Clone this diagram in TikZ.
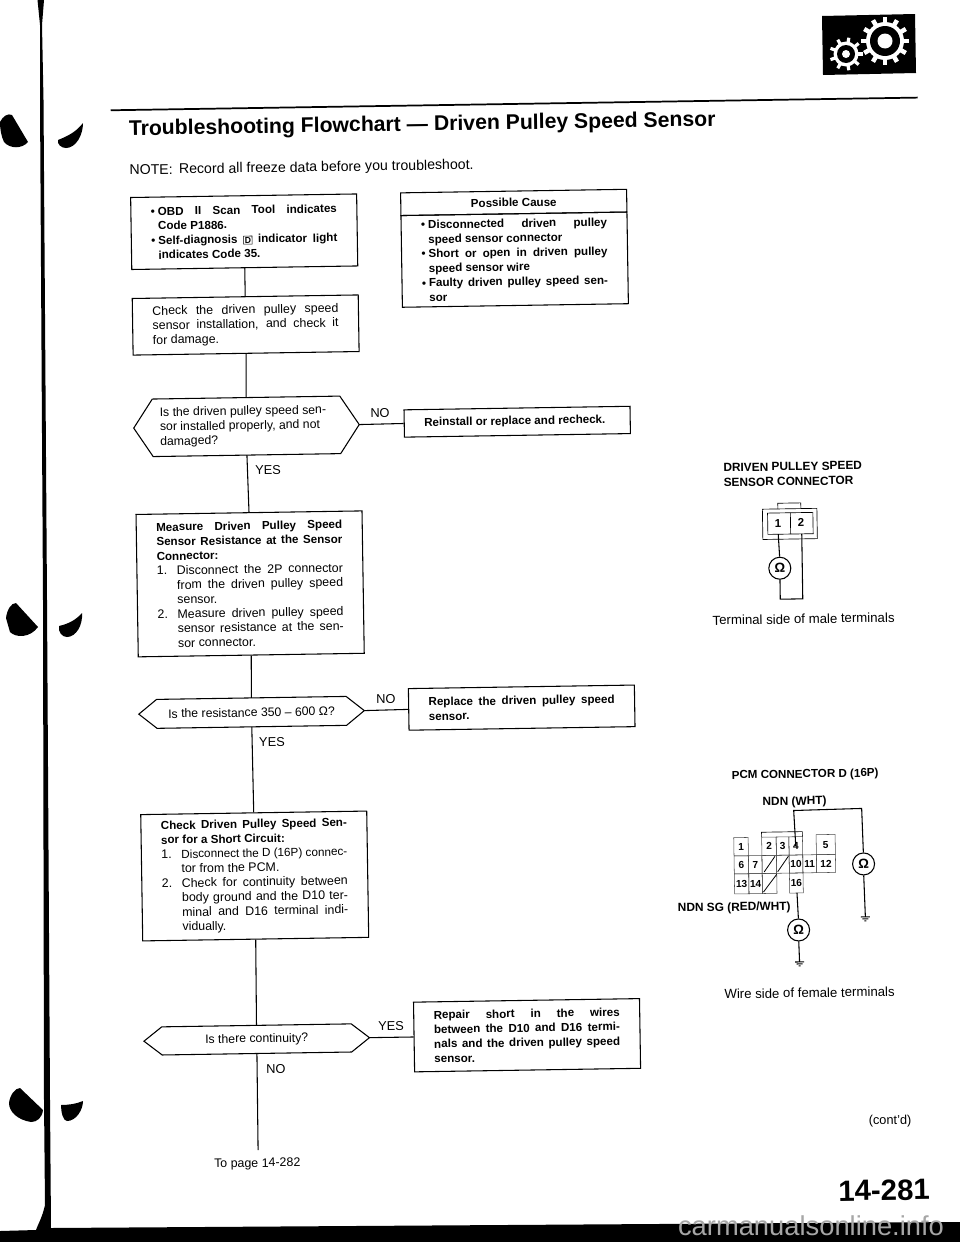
\documentclass[tikz,border=0pt]{standalone}
\usepackage{fontspec}
\usepackage{graphicx}
\setmainfont{Liberation Sans}
\usetikzlibrary{calc}
\newlength\px \setlength\px{0.75pt}
\newsavebox\fitsave
\newcommand\fitj[2]{\sbox\fitsave{\spaceskip=.27em\relax #2}\ifdim\wd\fitsave>#1\relax\resizebox{#1}{!}{\usebox\fitsave}\else\makebox[#1][s]{\spaceskip=.27em plus 1fil\relax #2}\fi}
\newcommand\bt{\fontsize{8.7}{10.9}\bfseries\selectfont}
\newcommand\jb[1]{\fitj{186\px}{\bt #1}}
\newcommand\nb[1]{{\bt #1}}
\newcommand\jr[1]{\fitj{186\px}{#1}}
\newcommand\rowj[3]{\makebox[#1\px][l]{#2}\fitj{\dimexpr186\px-#1\px\relax}{#3}}
\newcommand\rown[3]{\makebox[#1\px][l]{#2}#3}
\newcommand\gnd[1]{\draw[line width=0.8pt] (#1) ++(-4.5,0) -- ++(9,0) ++(-7.5,2) -- ++(6,0) ++(-4,2) -- ++(2,0);}
\tikzset{
 ln/.style={line width=0.8pt,black},
 box/.style={draw,ln,rectangle,anchor=north west,minimum width=226\px,inner xsep=20\px,inner ysep=0pt,text width=186\px,align=flush left,font=\fontsize{9.3}{10.9}\selectfont},
 hexbody/.style={rectangle,anchor=north west,minimum width=225\px,inner xsep=26\px,inner ysep=0pt,text width=173\px,align=flush left,font=\fontsize{9.2}{10.9}\selectfont},
 lab/.style={font=\fontsize{9.6}{11}\selectfont,inner sep=0pt},
 ctitle/.style={font=\fontsize{8.9}{11.2}\bfseries\selectfont,inner sep=0pt,align=flush left},
 capt/.style={font=\fontsize{9.9}{12}\selectfont,inner sep=0pt},
 ohm/.style={draw,ln,circle,minimum size=22\px,inner sep=0pt,font=\fontsize{10}{12}\bfseries\selectfont},
 term/.style={font=\fontsize{8.6}{10}\bfseries\selectfont,inner sep=0pt},
 cell/.style={draw,line width=0.4pt,black!70},
}
\begin{document}
\begin{tikzpicture}[x=0.75pt,y=-0.75pt]
\useasboundingbox (0,0) rectangle (960,1242);
% scanned page edge
\fill (0,1231) -- (36,1230) .. controls (39,1222) and (42,1218) .. (45,1205) -- (44,1100) -- (43,600) -- (40,100) -- (40,25) -- (37.5,0) -- (44,0) -- (42,25) -- (43.5,100) -- (47,600) -- (50,1100) -- (51,1228) -- (960,1222) -- (960,1242) -- (0,1242) -- cycle;
 \fill (0,122) .. controls (3,116) and (8,113) .. (12,115) -- (28,142) .. controls (22,149) and (10,149) .. (4,142) .. controls (1,136) and (0,128) .. (0,122) -- cycle;
 \fill (58,140) .. controls (68,136) and (76,132) .. (83,123) .. controls (83,135) and (76,148) .. (66,148) .. controls (61,148) and (57,144) .. (58,140) -- cycle;
 \fill (6,618) .. controls (7,610) and (11,603) .. (16,603) -- (38,627) .. controls (30,638) and (16,638) .. (10,632) -- cycle;
 \fill (59,626) .. controls (68,624) and (76,620) .. (82,613) .. controls (83,625) and (76,637) .. (67,637) .. controls (62,637) and (58,632) .. (59,626) -- cycle;
 \fill (9,1103) .. controls (10,1095) and (15,1088) .. (20,1088) -- (43,1110) .. controls (42,1118) and (37,1122) .. (31,1122) .. controls (18,1120) and (9,1112) .. (9,1103) -- cycle;
 \fill (61,1105) .. controls (68,1105) and (76,1104) .. (83,1101) .. controls (83,1110) and (76,1121) .. (67,1121) .. controls (63,1121) and (61,1112) .. (61,1105) -- cycle;
% gear badge
\fill (822,16) -- (915,14) -- (916,73) -- (823,75) -- cycle;
\foreach \cx/\cy/\ro/\rr/\ri/\rh/\n/\tw in {885/41/24/19/15/7.5/12/4.5,846/54/16.5/12.5/9/4/9/3.2}{
 \fill[white] (\cx,\cy) circle[radius=\rr];
 \foreach \k in {1,...,\n}{
  \fill[white,shift={(\cx,\cy)},rotate=\k*360/\n] (\rr-1,-\tw/2) rectangle (\ro,\tw/2);
 }
 \fill[black] (\cx,\cy) circle[radius=\ri];
 \fill[white] (\cx,\cy) circle[radius=\rh];
}
\begin{scope}[rotate=0.9,transform shape]
 \draw[line width=1.3pt] (109,112) -- (916,112);
 \node[anchor=west,inner sep=0pt,font=\fontsize{15.9}{18}\bfseries\selectfont] (title) at (126.6,132) {Troubleshooting Flowchart — Driven Pulley Speed Sensor};
 \node[anchor=west,inner sep=0pt,font=\fontsize{10.6}{12}\selectfont] (note) at (126.6,173) {NOTE:\, Record all freeze data before you troubleshoot.};
 % flow
 \node[box,minimum height=72\px] (b1) at (127,199) {\rowj{7}{\bt •}{\bt OBD II Scan Tool indicates}\\\rown{7}{}{\nb{Code P1886.}}\\\rowj{7}{\bt •}{\bt Self-diagnosis {\setlength\fboxsep{0.6pt}\setlength\fboxrule{0.4pt}\fbox{\fontsize{6.5}{7}\selectfont D}} indicator light}\\\rown{7}{}{\nb{indicates Code 35.}}};
 \node[box,minimum height=56.6\px] (b2) at (127,300) {\jr{Check the driven pulley speed}\\\jr{sensor installation, and check it}\\for damage.};
 \node[hexbody,minimum height=57\px] (h1) at (127,401.4) {Is the driven pulley speed sen-\\sor installed properly, and not\\damaged?};
 \draw[ln] (h1.west) -- ($(h1.north west)+(19,0)$) -- ($(h1.north east)+(-19,0)$) -- (h1.east) -- ($(h1.south east)+(-19,0)$) -- ($(h1.south west)+(19,0)$) -- cycle;
 \node[box,minimum height=27.3\px] (r1) at (397,415.6) {\nb{Reinstall or replace and recheck.}};
 \node[box,minimum height=142.4\px] (b3) at (127.4,516) {\jb{Measure Driven Pulley Speed}\\\jb{Sensor Resistance at the Sensor}\\\nb{Connector:}\\\rowj{20}{1.}{Disconnect the 2P connector}\\\rowj{20}{}{from the driven pulley speed}\\\rown{20}{}{sensor.}\\\rowj{20}{2.}{Measure driven pulley speed}\\\rowj{20}{}{sensor resistance at the sen-}\\\rown{20}{}{sor connector.}};
 \node[hexbody,minimum height=28.4\px,align=flush center] (h2) at (127.6,701.8) {Is the resistance 350 – 600 Ω?};
 \draw[ln] (h2.west) -- ($(h2.north west)+(18,0)$) -- ($(h2.north east)+(-18,0)$) -- (h2.east) -- ($(h2.south east)+(-18,0)$) -- ($(h2.south west)+(18,0)$) -- cycle;
 \node[box,minimum height=41.6\px] (r2) at (397,694.4) {\jb{Replace the driven pulley speed}\\\nb{sensor.}};
 \node[box,minimum height=126.3\px] (b4) at (127.4,816.2) {\jb{Check Driven Pulley Speed Sen-}\\\nb{sor for a Short Circuit:}\\\rowj{20}{1.}{Disconnect the D (16P) connec-}\\\rown{20}{}{tor from the PCM.}\\\rowj{20}{2.}{Check for continuity between}\\\rowj{20}{}{body ground and the D10 ter-}\\\rowj{20}{}{minal and D16 terminal indi-}\\\rown{20}{}{vidually.}};
 \node[hexbody,minimum height=27.6\px,align=flush center] (h3) at (127.6,1029.3) {Is there continuity?};
 \draw[ln] (h3.west) -- ($(h3.north west)+(18,0)$) -- ($(h3.north east)+(-18,0)$) -- (h3.east) -- ($(h3.south east)+(-18,0)$) -- ($(h3.south west)+(18,0)$) -- cycle;
 \node[box,minimum height=69.7\px] (r3) at (397.2,1008) {\jb{Repair short in the wires}\\\jb{between the D10 and D16 termi-}\\\jb{nals and the driven pulley speed}\\\nb{sensor.}};
 % possible cause
 \node[box,minimum height=22.7\px,align=flush center] (pch) at (397,198.6) {\nb{Possible Cause}};
 \node[box,minimum height=91.7\px,anchor=north west] (pcb) at (397,221.3) {\rowj{7}{\bt •}{\bt Disconnected driven pulley}\\\rown{7}{}{\nb{speed sensor connector}}\\\rowj{7}{\bt •}{\bt Short or open in driven pulley}\\\rown{7}{}{\nb{speed sensor wire}}\\\rowj{7}{\bt •}{\bt Faulty driven pulley speed sen-}\\\rown{7}{}{\nb{sor}}};
 % connectors
 \coordinate (end) at (240,1154);
 \draw[ln] (b1.south) -- (b2.north);
 \draw[ln] (b2.south) -- (h1.north);
 \draw[ln] (h1.south) -- (b3.north);
 \draw[ln] (b3.south) -- (h2.north);
 \draw[ln] (h2.south) -- (b4.north);
 \draw[ln] (b4.south) -- (h3.north);
 \draw[ln] (h3.south) -- (end);
 \draw[ln] (h1.east) -- (r1.west);
 \draw[ln] (h2.east) -- (r2.west);
 \draw[ln] (h3.east) -- (r3.west);
 \node[lab] (no1) at (373.5,419) {NO};
 \node[lab] (yes1) at (260.6,474) {YES};
 \node[lab] (no2) at (375,705) {NO};
 \node[lab] (yes2) at (260.3,746) {YES};
 \node[lab] (yes3) at (375,1032) {YES};
 \node[lab] (no3) at (259,1073.5) {NO};
 \node[lab,font=\fontsize{9.3}{11}\selectfont] (topage) at (239,1168) {To page 14-282};
 \node[lab] (contd) at (872.4,1135) {(cont'd)};
 \node[inner sep=0pt,font=\fontsize{22}{24}\bfseries\selectfont] (pageno) at (865.3,1204) {14-281};
 % connector 1
 \begin{scope}[shift={(-8.2,12.4)}]
  \node[ctitle,anchor=north west] (c1t) at (724,462) {DRIVEN PULLEY SPEED\\SENSOR CONNECTOR};
  \draw[line width=0.5pt] (762.5,508.7) rectangle (817,539);
  \draw[line width=0.5pt] (778,508.7) -- (778,503) -- (801,503) -- (801,508.7);
  \draw[line width=0.5pt] (767.6,512.7) rectangle (812.9,534);
  \draw[line width=0.5pt] (790.4,512.7) -- (790.4,534);
  \node[term] (t1) at (778,523) {1};
  \node[term] (t2) at (801,523) {2};
  \node[ohm] (o1) at (779,568) {Ω};
  \coordinate (c1a) at (778,534);
  \coordinate (c1b) at (801.5,534);
  \coordinate (c1c) at (779,599);
  \coordinate (c1d) at (801.5,599);
  \draw[ln] (c1a) -- (o1.north);
  \draw[ln] (o1.south) -- (c1c) -- (c1d) -- (c1b);
  \node[capt] (c1cap) at (802,619) {Terminal side of male terminals};
 \end{scope}
 % connector 2
 \begin{scope}[shift={(-14.1,12.4)}]
  \node[ctitle,font=\fontsize{8.7}{11}\bfseries\selectfont] (c2t) at (807,775) {PCM CONNECTOR D (16P)};
  \node[ctitle] (n1) at (796,802) {NDN (WHT)};
  \node[ctitle] (n2) at (734,907) {NDN SG (RED/WHT)};
  \foreach \a/\b/\c/\d/\t in {734.6/749/836.7/855/1,762.5/777/836.7/855/2,777/789.7/836.7/855/3,789.7/803.3/836.7/855/4,817/836/835/855/5,734.6/749/855/873/6,749/762.5/855/873/7,789.7/803.3/855/873/10,803.3/817/855/873/11,817/836/855/873/12,734.6/749/873/893/13,749/762.5/873/893/14,789.7/803.3/873/893/16}{
   \draw[cell] (\a,\c) rectangle (\b,\d);
   \node[term,font=\fontsize{7.6}{9}\bfseries\selectfont] at ({(\a+\b)/2},{(\c+\d)/2}) {\t};
  }
  \draw[cell] (762.5,855) rectangle (777,873);
  \draw[cell] (777,855) rectangle (789.7,873);
  \draw[cell] (762.5,873) rectangle (777,893);
  \draw[line width=0.6pt] (764.5,871.5) -- (775.5,856) (778,871.5) -- (789,856) (763.5,891.5) -- (777,874);
  \draw[line width=0.5pt] (762.5,836.7) -- (762.5,831.7) -- (803.3,831.7) -- (803.3,836.7);
  \node[ohm] (o2) at (864,865) {Ω};
  \node[ohm] (o3) at (798,930) {Ω};
  \coordinate (w1) at (796.5,846);
  \coordinate (w2) at (795,810.5);
  \coordinate (w3) at (863,809.5);
  \coordinate (g1) at (865,918);
  \coordinate (w4) at (797,893);
  \coordinate (g2) at (798.5,962);
  \draw[ln] (w1) -- (w2) -- (w3) -- (o2.north);
  \draw[ln] (o2.south) -- (g1);
  \draw[ln] (w4) -- (o3.north);
  \draw[ln] (o3.south) -- (g2);
  \gnd{g1}
  \gnd{g2}
  \node[capt] (c2cap) at (808,993) {Wire side of female terminals};
 \end{scope}
\end{scope}
% watermark
\node[inner sep=0pt,text=black!35,font=\fontsize{20.5}{24}\selectfont] (wm) at (811,1226) {carmanualsonline.info};
\end{tikzpicture}
\end{document}
